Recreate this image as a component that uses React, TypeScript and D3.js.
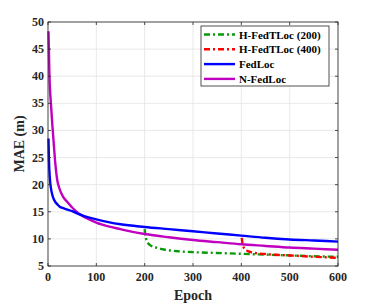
import React from 'react';
import * as d3 from 'd3';

const xTicks = [0, 100, 200, 300, 400, 500, 600];
const yTicks = [5, 10, 15, 20, 25, 30, 35, 40, 45, 50];

const fedLocEpochs = [1, 2, 4, 6, 9, 12, 16, 20, 25, 30, 40, 50, 60, 75, 100, 125, 150, 200, 250, 300, 350, 400, 450, 500, 550, 600];
const fedLocMae = [28.5, 24.5, 21.0, 19.4, 18.1, 17.3, 16.7, 16.3, 15.9, 15.7, 15.4, 15.1, 14.7, 14.2, 13.6, 13.1, 12.7, 12.2, 11.8, 11.4, 11.0, 10.6, 10.2, 9.9, 9.7, 9.5];

const nFedLocEpochs = [1, 3, 6, 9, 12, 15, 19, 24, 31, 40, 52, 62, 72, 85, 100, 125, 150, 175, 200, 250, 300, 350, 400, 450, 500, 550, 600];
const nFedLocMae = [48.3, 40.0, 35.0, 31.0, 27.5, 24.0, 20.9, 19.2, 17.8, 16.8, 15.6, 14.8, 14.2, 13.6, 13.0, 12.3, 11.8, 11.3, 10.9, 10.3, 9.8, 9.4, 9.0, 8.7, 8.4, 8.2, 8.0];

const hfed200Epochs = [200, 201, 203, 205, 207, 212, 224, 240, 272, 300, 350, 400, 450, 500, 550, 600];
const hfed200Mae = [11.8, 10.9, 10.0, 9.5, 9.2, 8.8, 8.4, 8.05, 7.7, 7.55, 7.4, 7.25, 7.1, 6.95, 6.8, 6.7];

const hfed400Epochs = [401, 402, 404, 407, 412, 420, 431, 450, 475, 500, 550, 600];
const hfed400Mae = [10.2, 9.3, 8.6, 8.1, 7.8, 7.55, 7.35, 7.2, 7.05, 6.95, 6.7, 6.5];

const legendNames = ['H-FedTLoc (200)', 'H-FedTLoc (400)', 'FedLoc', 'N-FedLoc'];
const legendColors = ['#0a9a0a', '#ff0000', '#0000ff', '#c000c0'];
const legendDash = ['6,3,2,3', '6,3,2,3', null, null];

const App = () => {
  const width = 374;
  const height = 304;
  const margin = { top: 22, right: 36, bottom: 38, left: 48 };
  const font = '"Liberation Serif", "Times New Roman", serif';

  const x = d3.scaleLinear().domain([0, 600]).range([margin.left, width - margin.right]);
  const y = d3.scaleLinear().domain([5, 50]).range([height - margin.bottom, margin.top]);

  const line = d3.line<[number, number]>()
    .x(d => x(d[0]))
    .y(d => y(d[1]))
    .curve(d3.curveMonotoneX);

  const zip = (a: number[], b: number[]) => a.map((v, i) => [v, b[i]] as [number, number]);

  const series = [
    { pts: zip(hfed200Epochs, hfed200Mae), i: 0 },
    { pts: zip(hfed400Epochs, hfed400Mae), i: 1 },
    { pts: zip(nFedLocEpochs, nFedLocMae), i: 3 },
    { pts: zip(fedLocEpochs, fedLocMae), i: 2 },
  ];

  const x0 = margin.left, x1 = width - margin.right;
  const y0 = height - margin.bottom, y1 = margin.top;
  const axisColor = '#262626';

  const lx = 201, ly = 26, lw = 128, lh = 60;

  return (
    <svg width={width} height={height} style={{ position: 'absolute', left: 0, top: 0, background: '#fff' }}>
      <rect x={0} y={0} width={width} height={height} fill="#fff" />
      {/* grid */}
      {xTicks.map(t => (
        <line key={'gx' + t} x1={x(t)} x2={x(t)} y1={y0} y2={y1} stroke="#e3e3e3" strokeWidth={0.8} />
      ))}
      {yTicks.map(t => (
        <line key={'gy' + t} x1={x0} x2={x1} y1={y(t)} y2={y(t)} stroke="#e3e3e3" strokeWidth={0.8} />
      ))}
      {/* series */}
      {series.map(s => (
        <path
          key={s.i}
          d={line(s.pts) || ''}
          fill="none"
          stroke={legendColors[s.i]}
          strokeWidth={2.4}
          strokeDasharray={legendDash[s.i] || undefined}
        />
      ))}
      {/* box and ticks */}
      <rect x={x0} y={y1} width={x1 - x0} height={y0 - y1} fill="none" stroke={axisColor} strokeWidth={0.8} />
      {xTicks.map(t => (
        <g key={'tx' + t}>
          <line x1={x(t)} x2={x(t)} y1={y0} y2={y0 - 3} stroke={axisColor} strokeWidth={0.8} />
          <line x1={x(t)} x2={x(t)} y1={y1} y2={y1 + 3} stroke={axisColor} strokeWidth={0.8} />
          <text x={x(t)} y={y0 + 15} textAnchor="middle" fontFamily={font} fontWeight="bold" fontSize={12} fill={axisColor}>{t}</text>
        </g>
      ))}
      {yTicks.map(t => (
        <g key={'ty' + t}>
          <line x1={x0} x2={x0 + 3} y1={y(t)} y2={y(t)} stroke={axisColor} strokeWidth={0.8} />
          <line x1={x1} x2={x1 - 3} y1={y(t)} y2={y(t)} stroke={axisColor} strokeWidth={0.8} />
          <text x={x0 - 4} y={y(t) + 4} textAnchor="end" fontFamily={font} fontWeight="bold" fontSize={12} fill={axisColor}>{t}</text>
        </g>
      ))}
      <text x={(x0 + x1) / 2} y={300} textAnchor="middle" fontFamily={font} fontWeight="bold" fontSize={14} fill={axisColor}>Epoch</text>
      <text transform={`translate(24, ${(y0 + y1) / 2}) rotate(-90)`} textAnchor="middle" fontFamily={font} fontWeight="bold" fontSize={14} fill={axisColor}>MAE (m)</text>
      {/* legend */}
      <rect x={lx} y={ly} width={lw} height={lh} fill="#fff" stroke={axisColor} strokeWidth={0.8} />
      {legendNames.map((n, i) => (
        <g key={n}>
          <line x1={204} x2={235} y1={ly + 8.5 + i * 14.8} y2={ly + 8.5 + i * 14.8} stroke={legendColors[i]} strokeWidth={2.4} strokeDasharray={legendDash[i] || undefined} />
          <text x={239} y={ly + 12.5 + i * 14.8} fontFamily={font} fontWeight="bold" fontSize={11} fill="#000">{n}</text>
        </g>
      ))}
    </svg>
  );
};

export default App;
